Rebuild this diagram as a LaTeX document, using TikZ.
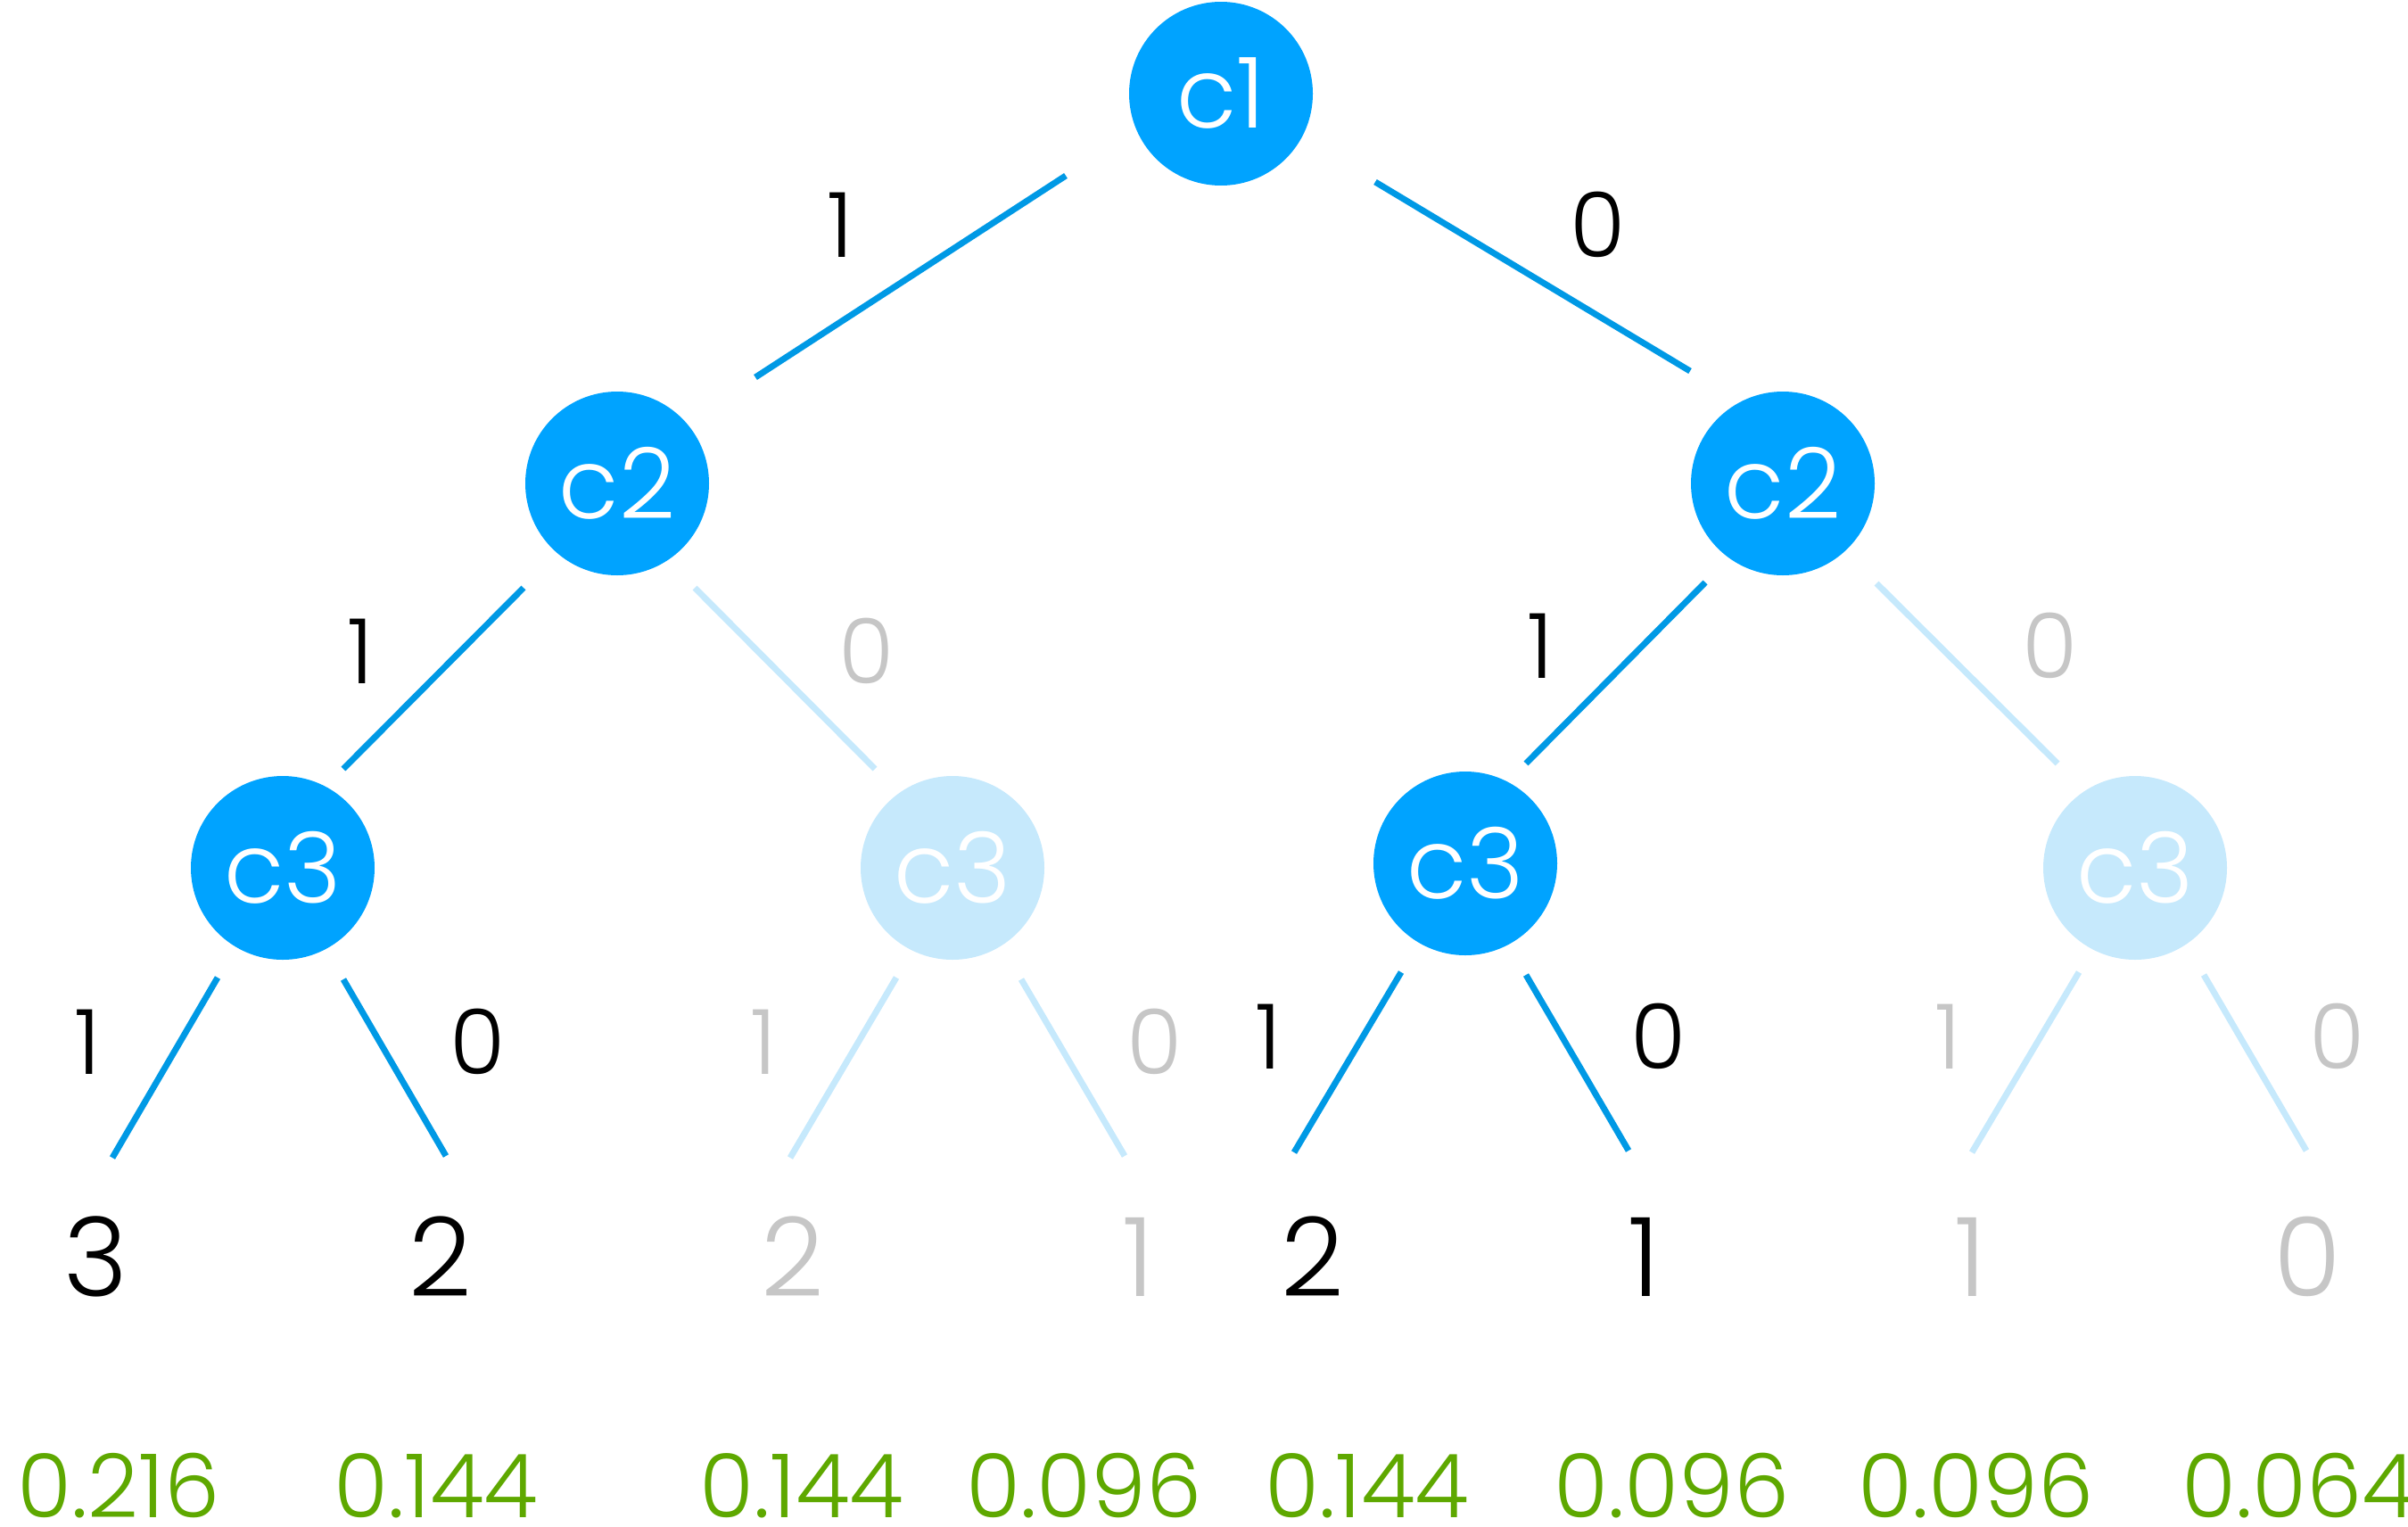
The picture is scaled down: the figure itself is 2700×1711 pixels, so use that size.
\documentclass[tikz,border=0pt]{standalone}
\usepackage{fontspec}
\setmainfont{Poppins Light}
\definecolor{nodeblue}{HTML}{00A3FF}
\definecolor{edgeblue}{HTML}{0099E5}
\definecolor{faded}{HTML}{C6E9FC}
\definecolor{fadetext}{HTML}{C6C6C6}
\definecolor{probgreen}{HTML}{5EA800}
\begin{document}
\begin{tikzpicture}[x=1pt,y=-1pt,
  cnode/.style={circle,fill=nodeblue,minimum size=206pt,inner sep=0pt,text=white,font=\fontsize{110}{110}\selectfont},
  cfade/.style={cnode,fill=faded},
  edge/.style={draw=edgeblue,line width=7pt},
  efade/.style={draw=faded,line width=7pt},
  elabel/.style={inner sep=0pt,font=\fontsize{101}{101}\selectfont},
  glabel/.style={elabel,text=fadetext},
  leaf/.style={inner sep=0pt,font=\fontsize{123}{123}\selectfont},
  gleaf/.style={leaf,text=fadetext},
  prob/.style={inner sep=0pt,text=probgreen,font=\fontsize{99}{99}\selectfont}]
\useasboundingbox (0,0) rectangle (2700,1711);
% nodes
\node[cnode] (c1) at (1369,105) {c1};
\node[cnode] (c2L) at (692,542) {c2};
\node[cnode] (c2R) at (1999,542) {c2};
\node[cnode] (c3a) at (317,973) {c3};
\node[cfade] (c3b) at (1068,973) {c3};
\node[cnode] (c3c) at (1643,968) {c3};
\node[cfade] (c3d) at (2394,973) {c3};
% connector end points (lines stop short of the circles)
\coordinate (a1) at (1195,197);  \coordinate (b1) at (847,423);
\coordinate (a2) at (1542,204);  \coordinate (b2) at (1895,416);
\coordinate (a3) at (587,659);   \coordinate (b3) at (385,862);
\coordinate (a4) at (779,659);   \coordinate (b4) at (981,862);
\coordinate (a5) at (1912,653);  \coordinate (b5) at (1711,856);
\coordinate (a6) at (2104,654);  \coordinate (b6) at (2307,856);
\coordinate (s1) at (244,1096);  \coordinate (e1) at (126,1298);
\coordinate (s2) at (385,1098);  \coordinate (e2) at (500,1296);
\coordinate (s3) at (1005,1096); \coordinate (e3) at (886,1298);
\coordinate (s4) at (1145,1098); \coordinate (e4) at (1261,1296);
\coordinate (s5) at (1571,1090); \coordinate (e5) at (1451,1292);
\coordinate (s6) at (1711,1093); \coordinate (e6) at (1826,1290);
\coordinate (s7) at (2331,1090); \coordinate (e7) at (2211,1292);
\coordinate (s8) at (2471,1093); \coordinate (e8) at (2586,1290);
% edges
\draw[edge] (a1) -- (b1);
\draw[edge] (a2) -- (b2);
\draw[edge] (a3) -- (b3);
\draw[efade] (a4) -- (b4);
\draw[edge] (a5) -- (b5);
\draw[efade] (a6) -- (b6);
\draw[edge] (s1) -- (e1);
\draw[edge] (s2) -- (e2);
\draw[efade] (s3) -- (e3);
\draw[efade] (s4) -- (e4);
\draw[edge] (s5) -- (e5);
\draw[edge] (s6) -- (e6);
\draw[efade] (s7) -- (e7);
\draw[efade] (s8) -- (e8);
% edge labels
\node[elabel] (t1) at (942,252) {1};
\node[elabel] (t2) at (1792,252) {0};
\node[elabel] (t3) at (404,730) {1};
\node[glabel] (t4) at (972,730) {0};
\node[elabel] (t5) at (1727,724) {1};
\node[glabel] (t6) at (2299,724) {0};
\node[elabel] (t7) at (98,1168) {1};
\node[elabel] (t8) at (536,1168) {0};
\node[glabel] (t9) at (856,1168) {1};
\node[glabel] (t10) at (1295,1168) {0};
\node[elabel] (t11) at (1422,1162) {1};
\node[elabel] (t12) at (1860,1162) {0};
\node[glabel] (t13) at (2184,1162) {1};
\node[glabel] (t14) at (2621,1162) {0};
% leaves
\node[leaf] (l1) at (107,1409) {3};
\node[leaf] (l2) at (494,1409) {2};
\node[gleaf] (l3) at (889,1409) {2};
\node[gleaf] (l4) at (1276,1409) {1};
\node[leaf] (l5) at (1472,1409) {2};
\node[leaf] (l6) at (1843,1409) {1};
\node[gleaf] (l7) at (2209,1409) {1};
\node[gleaf] (l8) at (2587,1409) {0};
% probabilities
\node[prob] (p1) at (133,1666) {0.216};
\node[prob] (p2) at (489,1666) {0.144};
\node[prob] (p3) at (899,1666) {0.144};
\node[prob] (p4) at (1216,1666) {0.096};
\node[prob] (p5) at (1533,1666) {0.144};
\node[prob] (p6) at (1875,1666) {0.096};
\node[prob] (p7) at (2216,1666) {0.096};
\node[prob] (p8) at (2578,1666) {0.064};
\end{tikzpicture}
\end{document}
